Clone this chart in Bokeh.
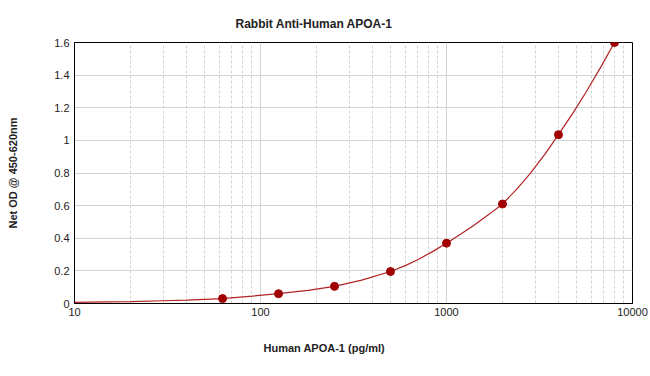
from bokeh.plotting import figure
from bokeh.models import FixedTicker, Title, Range1d
from bokeh.embed import file_html
from bokeh.resources import INLINE

# Data
conc = [62.5, 125, 250, 500, 1000, 2000, 4000, 8000]
od = [0.03, 0.06, 0.105, 0.196, 0.37, 0.61, 1.035, 1.6]

# Fitted curve
curve_x = [10, 15, 20, 30, 40, 62.5, 90, 125, 180, 250, 350, 500, 600, 700, 850, 1000, 1200, 1400, 1700,
           2000, 2400, 2800, 3400, 4000, 4800, 5600, 6800, 8000]
curve_y = [0.007, 0.010, 0.012, 0.017, 0.021, 0.03, 0.045, 0.06, 0.08, 0.105, 0.143, 0.196, 0.232, 0.268,
           0.321, 0.37, 0.427, 0.478, 0.548, 0.61, 0.704, 0.793, 0.919, 1.035, 1.17, 1.292, 1.455, 1.6]

x_major = [10, 100, 1000, 10000]
x_minor = [m * d for d in [10, 100, 1000] for m in range(2, 10)]
y_ticks = [0, 0.2, 0.4, 0.6, 0.8, 1.0, 1.2, 1.4, 1.6]

title_text = "Rabbit Anti-Human APOA-1"
x_label = "Human APOA-1 (pg/ml)"
y_label = "Net OD @ 450-620nm"

FONT = "Liberation Sans"

p = figure(width=650, height=376, x_axis_type="log",
           x_range=Range1d(10, 10000), y_range=Range1d(0, 1.6),
           output_backend="svg", toolbar_location=None,
           min_border_left=74, min_border_right=18,
           min_border_top=42, min_border_bottom=73)

p.outline_line_color = "black"
p.outline_line_width = 1
p.background_fill_color = "white"
p.border_fill_color = "white"

p.xaxis.ticker = FixedTicker(ticks=x_major, minor_ticks=x_minor)
p.yaxis.ticker = FixedTicker(ticks=y_ticks)
p.yaxis.major_label_overrides = {0: "0", 0.2: "0.2", 0.4: "0.4", 0.6: "0.6", 0.8: "0.8",
                                 1.0: "1", 1.2: "1.2", 1.4: "1.4", 1.6: "1.6"}
p.xaxis.major_label_overrides = {10: "10", 100: "100", 1000: "1000", 10000: "10000"}

for ax in (p.xaxis, p.yaxis):
    ax.axis_line_color = "black"
    ax.axis_line_width = 1
    ax.major_tick_out = 0
    ax.major_tick_in = 0
    ax.minor_tick_out = 0
    ax.minor_tick_in = 0
    ax.major_label_text_font = FONT
    ax.major_label_text_font_size = "11px"
    ax.major_label_text_color = "#222222"

p.xaxis.major_label_standoff = 4
p.yaxis.major_label_standoff = 5

p.yaxis.axis_label = y_label
p.yaxis.axis_label_text_font = FONT
p.yaxis.axis_label_text_font_style = "bold"
p.yaxis.axis_label_text_font_size = "11px"
p.yaxis.axis_label_text_color = "#222222"
p.yaxis.axis_label_standoff = 32

p.xgrid.grid_line_color = "#d4d4d4"
p.xgrid.grid_line_width = 1
p.xgrid.minor_grid_line_color = "#d4d4d4"
p.xgrid.minor_grid_line_dash = "3 2"
p.ygrid.grid_line_color = "#d4d4d4"
p.ygrid.grid_line_width = 1

p.line(curve_x, curve_y, line_color="#b22222", line_width=1.2)
p.scatter(conc, od, size=8, fill_color="#a00000", line_color="#a00000")

p.add_layout(Title(text=title_text, align="left", offset=161, standoff=24,
                   text_font=FONT, text_font_style="bold", text_font_size="12px",
                   text_color="#222222"), "above")
p.add_layout(Title(text=x_label, align="left", offset=189, standoff=43,
                   text_font=FONT, text_font_style="bold", text_font_size="11px",
                   text_color="#222222"), "below")

open("out.html", "w").write(file_html(p, INLINE))
